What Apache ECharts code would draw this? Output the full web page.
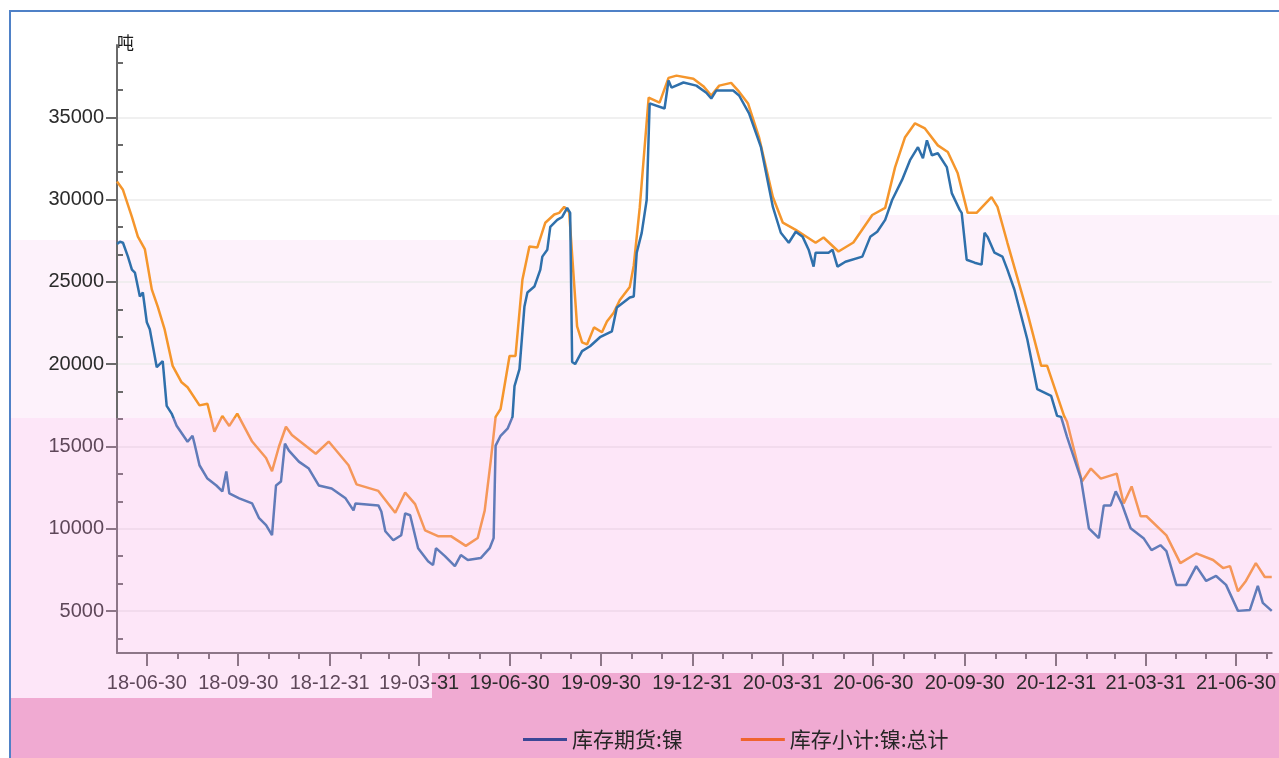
<!DOCTYPE html>
<html>
<head>
<meta charset="utf-8">
<script src="https://cdn.jsdelivr.net/npm/echarts@6/dist/echarts.min.js"></script>
<style>
    html, body { margin: 0; padding: 0; background: #fff; }
    #chart { width: 1279px; height: 758px; }
</style>
</head>
<body>
<div id="chart"></div>
<script>
// 库存小计:镍:总计 (orange)
const totalDates = [
    "2018-05-31", "2018-06-06", "2018-06-15", "2018-06-21", "2018-06-28", "2018-07-05", "2018-07-11", "2018-07-18",
    "2018-07-26", "2018-08-04", "2018-08-10", "2018-08-22", "2018-08-30", "2018-09-06", "2018-09-14", "2018-09-21",
    "2018-09-29", "2018-10-14", "2018-10-28", "2018-11-03", "2018-11-10", "2018-11-17", "2018-11-23", "2018-12-17",
    "2018-12-30", "2019-01-19", "2019-01-27", "2019-02-18", "2019-03-07", "2019-03-17", "2019-03-27", "2019-04-06",
    "2019-04-19", "2019-05-02", "2019-05-17", "2019-05-29", "2019-06-05", "2019-06-11", "2019-06-16", "2019-06-21",
    "2019-06-30", "2019-07-06", "2019-07-13", "2019-07-20", "2019-07-28", "2019-08-05", "2019-08-14", "2019-08-19",
    "2019-08-24", "2019-08-29", "2019-09-06", "2019-09-11", "2019-09-16", "2019-09-23", "2019-10-01", "2019-10-06",
    "2019-10-13", "2019-10-19", "2019-10-29", "2019-11-02", "2019-11-08", "2019-11-12", "2019-11-17", "2019-11-28",
    "2019-12-07", "2019-12-15", "2020-01-01", "2020-01-11", "2020-01-19", "2020-01-27", "2020-02-08", "2020-02-15",
    "2020-02-25", "2020-03-07", "2020-03-21", "2020-03-31", "2020-04-13", "2020-05-03", "2020-05-11", "2020-05-26",
    "2020-06-10", "2020-06-29", "2020-07-12", "2020-07-22", "2020-08-01", "2020-08-11", "2020-08-21", "2020-09-03",
    "2020-09-13", "2020-09-23", "2020-10-03", "2020-10-12", "2020-10-27", "2020-11-02", "2020-11-12", "2020-12-02",
    "2020-12-16", "2020-12-22", "2021-01-08", "2021-01-11", "2021-01-26", "2021-02-04", "2021-02-14", "2021-03-02",
    "2021-03-09", "2021-03-17", "2021-03-26", "2021-04-01", "2021-04-21", "2021-05-05", "2021-05-21", "2021-06-07",
    "2021-06-17", "2021-06-24", "2021-07-02", "2021-07-10", "2021-07-20", "2021-07-29", "2021-08-05",
];
const totalValues = [
    31100, 30600, 28950, 27750, 27000, 24550, 23500, 22100,
    19900, 18900, 18600, 17500, 17600, 15900, 16850, 16250,
    17000, 15300, 14300, 13500, 15000, 16200, 15700, 14560,
    15300, 13860, 12700, 12300, 10970, 12200, 11500, 9900,
    9550, 9550, 8960, 9440, 11100, 14080, 16800, 17280,
    20500, 20500, 25150, 27150, 27100, 28600, 29100, 29200,
    29560, 29250, 22300, 21330, 21200, 22240, 21940, 22600,
    23150, 23900, 24700, 26000, 29500, 32500, 36200, 35900,
    37400, 37540, 37350, 36900, 36330, 36930, 37100, 36630,
    35850, 33800, 30160, 28600, 28170, 27380, 27700, 26850,
    27400, 29070, 29500, 31980, 33800, 34640, 34330, 33300,
    32900, 31600, 29200, 29200, 30160, 29560, 27380, 23150,
    19900, 19900, 16860, 16500, 12870, 13660, 13050, 13350,
    11540, 12570, 10760, 10760, 9600, 7910, 8500, 8100,
    7610, 7730, 6200, 6830, 7910, 7070, 7070,
];

// 库存期货:镍 (blue)
const futuresDates = [
    "2018-05-31", "2018-06-03", "2018-06-06", "2018-06-11", "2018-06-15", "2018-06-18", "2018-06-23", "2018-06-26",
    "2018-06-30", "2018-07-03", "2018-07-10", "2018-07-16", "2018-07-20", "2018-07-25", "2018-07-30", "2018-08-10",
    "2018-08-15", "2018-08-17", "2018-08-22", "2018-08-30", "2018-09-08", "2018-09-14", "2018-09-18", "2018-09-21",
    "2018-10-01", "2018-10-14", "2018-10-21", "2018-10-28", "2018-11-03", "2018-11-07", "2018-11-12", "2018-11-16",
    "2018-11-20", "2018-11-30", "2018-12-10", "2018-12-20", "2019-01-02", "2019-01-16", "2019-01-24", "2019-01-26",
    "2019-02-18", "2019-02-21", "2019-02-25", "2019-03-05", "2019-03-13", "2019-03-17", "2019-03-22", "2019-03-30",
    "2019-04-09", "2019-04-14", "2019-04-17", "2019-04-26", "2019-05-06", "2019-05-12", "2019-05-19", "2019-06-01",
    "2019-06-10", "2019-06-14", "2019-06-16", "2019-06-21", "2019-06-28", "2019-07-03", "2019-07-05", "2019-07-10",
    "2019-07-15", "2019-07-18", "2019-07-25", "2019-07-31", "2019-08-02", "2019-08-07", "2019-08-10", "2019-08-17",
    "2019-08-22", "2019-08-27", "2019-08-30", "2019-09-01", "2019-09-04", "2019-09-11", "2019-09-19", "2019-09-29",
    "2019-10-11", "2019-10-16", "2019-10-29", "2019-11-02", "2019-11-05", "2019-11-10", "2019-11-15", "2019-11-18",
    "2019-12-03", "2019-12-07", "2019-12-10", "2019-12-22", "2020-01-04", "2020-01-14", "2020-01-19", "2020-01-24",
    "2020-02-10", "2020-02-16", "2020-02-26", "2020-03-09", "2020-03-21", "2020-03-29", "2020-04-06", "2020-04-13",
    "2020-04-20", "2020-04-26", "2020-05-01", "2020-05-03", "2020-05-16", "2020-05-20", "2020-05-25", "2020-06-02",
    "2020-06-19", "2020-06-27", "2020-07-04", "2020-07-12", "2020-07-19", "2020-07-29", "2020-08-06", "2020-08-14",
    "2020-08-19", "2020-08-23", "2020-08-28", "2020-09-03", "2020-09-12", "2020-09-17", "2020-09-25", "2020-09-27",
    "2020-10-02", "2020-10-10", "2020-10-17", "2020-10-20", "2020-10-23", "2020-10-30", "2020-11-07", "2020-11-12",
    "2020-11-19", "2020-12-02", "2020-12-12", "2020-12-26", "2021-01-01", "2021-01-05", "2021-01-11", "2021-01-25",
    "2021-02-02", "2021-02-12", "2021-02-17", "2021-02-24", "2021-03-01", "2021-03-07", "2021-03-16", "2021-03-29",
    "2021-04-06", "2021-04-15", "2021-04-21", "2021-05-01", "2021-05-11", "2021-05-21", "2021-05-31", "2021-06-10",
    "2021-06-20", "2021-07-02", "2021-07-14", "2021-07-22", "2021-07-27", "2021-08-05",
];
const futuresValues = [
    27300, 27440, 27380, 26540, 25750, 25570, 24120, 24360,
    22550, 22120, 19820, 20190, 17470, 17000, 16260, 15290,
    15650, 15170, 13860, 13050, 12630, 12270, 13480, 12150,
    11850, 11540, 10640, 10220, 9610, 12630, 12870, 15170,
    14750, 14080, 13660, 12630, 12450, 11850, 11120, 11540,
    11420, 11050, 9850, 9300, 9610, 10940, 10820, 8820,
    8030, 7790, 8820, 8340, 7730, 8400, 8100, 8220,
    8820, 9430, 15050, 15650, 16080, 16800, 18670, 19700,
    23510, 24360, 24720, 25750, 26540, 26960, 28350, 28770,
    28950, 29500, 29200, 20130, 20010, 20800, 21090, 21640,
    22000, 23450, 24060, 24120, 26780, 27980, 29980, 35850,
    35540, 37240, 36810, 37120, 36930, 36500, 36150, 36630,
    36630, 36330, 35240, 33190, 29560, 27990, 27380, 28050,
    27740, 26960, 25930, 26780, 26780, 26960, 25930, 26230,
    26540, 27740, 28050, 28770, 29980, 31200, 32400, 33190,
    32520, 33610, 32700, 32820, 31980, 30400, 29380, 29200,
    26350, 26170, 26050, 27990, 27740, 26780, 26540, 25750,
    24540, 21520, 18490, 18070, 16860, 16800, 15590, 13050,
    10030, 9430, 11420, 11420, 12270, 11540, 10030, 9430,
    8700, 9000, 8640, 6590, 6590, 7730, 6830, 7130,
    6590, 5010, 5070, 6530, 5500, 5010,
];

const seriesNames = ["库存期货:镍", "库存小计:镍:总计"];
const quarterTicks = [
    "2018-06-30", "2018-09-30", "2018-12-31", "2019-03-31", "2019-06-30", "2019-09-30", "2019-12-31",
    "2020-03-31", "2020-06-30", "2020-09-30", "2020-12-31", "2021-03-31", "2021-06-30",
];
const monthTicks = [
    "2018-07-31", "2018-08-31", "2018-10-31", "2018-11-30", "2019-01-31", "2019-02-28", "2019-04-30",
    "2019-05-31", "2019-07-31", "2019-08-31", "2019-10-31", "2019-11-30", "2020-01-31", "2020-02-29",
    "2020-04-30", "2020-05-31", "2020-07-31", "2020-08-31", "2020-10-31", "2020-11-30", "2021-01-31",
    "2021-02-28", "2021-04-30", "2021-05-31", "2021-07-31",
];
const yMajorTicks = [5000, 10000, 15000, 20000, 25000, 30000, 35000];
const yMinorTicks = [
    3333.33, 6666.67, 8333.33, 11666.67, 13333.33, 16666.67, 18333.33, 21666.67,
    23333.33, 26666.67, 28333.33, 31666.67, 33333.33, 36666.67, 38333.33,
];

function toTime(s) {
    const [y, m, d] = s.split("-").map(Number);
    return Date.UTC(y, m - 1, d);
}
function pairs(dates, values) {
    return dates.map((d, i) => [toTime(d), values[i]]);
}
function shortDate(v) {
    const d = new Date(v);
    const p = (n) => String(n).padStart(2, "0");
    return p(d.getUTCFullYear() % 100) + "-" + p(d.getUTCMonth() + 1) + "-" + p(d.getUTCDate());
}

const labelFont = '"Liberation Sans", Arial, sans-serif';
const axisGray = "#6a6a6a";
const xMin = toTime("2018-05-31");
const xMax = toTime("2021-08-05");

const chart = echarts.init(document.getElementById("chart"), null, { renderer: "canvas" });

const option = {
    animation: false,
    backgroundColor: "#ffffff",
    grid: { left: 117, right: 0, top: 45, bottom: 105, containLabel: false },
    legend: {
        left: 518,
        top: 724,
        itemWidth: 44,
        itemHeight: 3,
        itemGap: 58,
        icon: "rect",
        textStyle: { fontFamily: '"Noto Sans CJK SC", sans-serif', fontSize: 21, color: "#262626" },
        data: [
            { name: seriesNames[0], itemStyle: { color: "#3b4796" } },
            { name: seriesNames[1], itemStyle: { color: "#f0642e" } },
        ],
    },
    xAxis: [
        {
            type: "value",
            min: xMin,
            max: xMax,
            axisLine: { lineStyle: { color: axisGray, width: 2 } },
            axisTick: { show: true, length: 13, customValues: quarterTicks.map(toTime), lineStyle: { color: axisGray, width: 2 } },
            axisLabel: {
                customValues: quarterTicks.map(toTime),
                margin: 20,
                fontFamily: labelFont,
                fontSize: 20,
                color: "#2b2b2b",
                hideOverlap: false,
                showMinLabel: true,
                showMaxLabel: true,
                formatter: shortDate,
            },
            splitLine: { show: false },
        },
        {
            type: "value",
            position: "bottom",
            min: xMin,
            max: xMax,
            axisLine: { show: false },
            axisTick: { show: true, length: 6, customValues: monthTicks.map(toTime), lineStyle: { color: axisGray, width: 2 } },
            axisLabel: { show: false },
            splitLine: { show: false },
        },
    ],
    yAxis: [
        {
            type: "value",
            position: "left",
            min: 2450,
            max: 39400,
            name: "吨",
            nameLocation: "end",
            nameGap: 2,
            nameTextStyle: { align: "left", verticalAlign: "middle", fontSize: 17, color: "#1a1a1a", fontFamily: '"Noto Sans CJK SC", sans-serif' },
            axisLine: { show: true, lineStyle: { color: axisGray, width: 2 } },
            axisTick: { show: true, length: 11, customValues: yMajorTicks, lineStyle: { color: axisGray, width: 2 } },
            axisLabel: {
                customValues: yMajorTicks,
                margin: 13,
                fontFamily: labelFont,
                fontSize: 20,
                color: "#2b2b2b",
                formatter: (v) => String(Math.round(v)),
            },
            splitLine: { show: true, lineStyle: { color: "#ebebeb", width: 1.5 } },
        },
        {
            type: "value",
            position: "left",
            offset: 0,
            min: 2450,
            max: 39400,
            axisLine: { show: false },
            axisTick: { show: true, inside: true, length: 6, customValues: yMinorTicks, lineStyle: { color: axisGray, width: 2 } },
            axisLabel: { show: false },
            splitLine: { show: false },
        },
    ],
    series: [
        {
            name: seriesNames[0],
            type: "line",
            showSymbol: false,
            symbol: "none",
            data: pairs(futuresDates, futuresValues),
            lineStyle: { color: "#2f70ab", width: 2.5 },
            itemStyle: { color: "#2f70ab" },
            z: 3,
        },
        {
            name: seriesNames[1],
            type: "line",
            showSymbol: false,
            symbol: "none",
            data: pairs(totalDates, totalValues),
            lineStyle: { color: "#f5962c", width: 2.5 },
            itemStyle: { color: "#f5962c" },
            z: 2,
        },
    ],
    graphic: [
        // tinted bands behind the plot
        { type: "rect", z: -10, silent: true, shape: { x: 10, y: 240, width: 1269, height: 178 }, style: { fill: "#fdf2fb" } },
        { type: "rect", z: -10, silent: true, shape: { x: 860, y: 215, width: 419, height: 25 }, style: { fill: "#fdf2fb" } },
        { type: "rect", z: -10, silent: true, shape: { x: 432, y: 673, width: 847, height: 25 }, style: { fill: "#f0aad2" } },
        { type: "rect", z: -10, silent: true, shape: { x: 10, y: 698, width: 1269, height: 60 }, style: { fill: "#f0aad2" } },
        // pink wash over the lower part
        { type: "rect", z: 100, silent: true, shape: { x: 10, y: 418, width: 1269, height: 255 }, style: { fill: "rgba(247,155,227,0.25)" } },
        { type: "rect", z: 100, silent: true, shape: { x: 10, y: 673, width: 422, height: 25 }, style: { fill: "rgba(247,155,227,0.25)" } },
        // frame
        { type: "rect", z: 101, silent: true, shape: { x: 10, y: 11, width: 1300, height: 800 }, style: { fill: null, stroke: "#4f81c7", lineWidth: 2 } },
    ],
};

chart.setOption(option);
</script>
</body>
</html>
